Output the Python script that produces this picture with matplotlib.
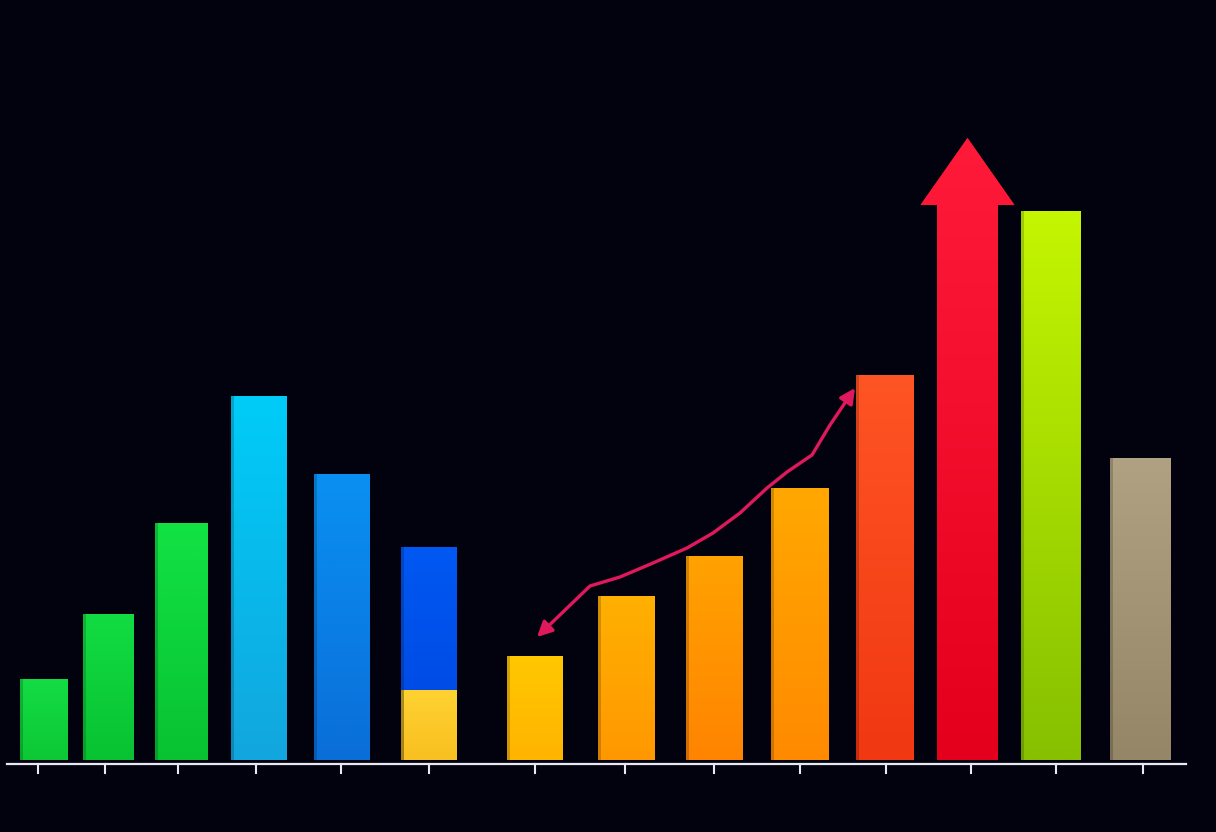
import numpy as np
import matplotlib
matplotlib.use("Agg")
import matplotlib.pyplot as plt
from matplotlib.patches import FancyArrow, FancyArrowPatch
from matplotlib.path import Path
from matplotlib.colors import to_rgb

# bar data (positions along the axis, heights, widths)
centers = [44, 108.5, 181.5, 259, 342, 429, 535, 626.5, 714.5, 800, 885, 1051, 1140.5]
heights = [81, 146, 237, 364, 286, 213, 104, 164, 204, 272, 385, 549, 302]
widths = [48, 51, 53, 56, 56, 56, 56, 57, 57, 58, 58, 60, 61]
top_colors = ['#14dc44', '#12dc42', '#12e244', '#00ccf8', '#0a90f2', '#0058f2', '#ffc800',
              '#ffb000', '#ffa200', '#ffa800', '#ff5424', '#c4f600', '#b0a182']
bottom_colors = ['#0cc834', '#08c232', '#08c232', '#12a6de', '#0a6ed8', '#0046e0', '#ffb400',
                 '#ff9800', '#ff8400', '#ff8a00', '#f03812', '#86c000', '#968668']

# yellow block at the bottom of the blue bar
stack_center = 429
stack_height = 70
stack_width = 56

# big red arrow bar
arrow_center = 967.5
arrow_shaft = 555
arrow_tip = 622

# tick positions
ticks = [38, 105, 178, 256, 341, 429, 535, 625, 714, 800, 886, 971, 1056, 1143]

# trend curve
curve_x = [537, 590, 620, 653, 687, 713, 740, 767, 787, 812, 830, 855]
curve_y = [123, 174, 183, 197, 212, 227, 247, 272, 288, 305, 335, 372]

bg = '#02020f'

fig = plt.figure(figsize=(12.16, 8.32), dpi=100, facecolor=bg)
ax = fig.add_axes([0, 0, 1, 1])
ax.set_facecolor(bg)
ax.set_xlim(0, 1216)
ax.set_ylim(-72, 760)
ax.axis('off')


def gradient_fill(patch, x0, x1, y0, y1, c_top, c_bot):
    t = np.array(to_rgb(c_top))
    b = np.array(to_rgb(c_bot))
    f = np.linspace(0, 1, 100)[:, None]
    img = np.repeat((t * (1 - f) + b * f)[:, None, :], 2, axis=1)
    im = ax.imshow(img, extent=[x0, x1, y0, y1], aspect='auto', zorder=3,
                   interpolation='bilinear')
    im.set_clip_path(patch)


def gradient_bar(x, w, h, c_top, c_bot, bottom=0):
    bars = ax.bar(x, h, w, bottom=bottom, color=c_bot, zorder=2, linewidth=0)
    gradient_fill(bars[0], x - w / 2, x + w / 2, bottom, bottom + h, c_top, c_bot)
    # slight shading on the left edge
    ax.bar(x - w / 2 + 1.5, h, 3, bottom=bottom, color='black', alpha=0.18, zorder=4, linewidth=0)
    return bars


for x, h, w, ct, cb in zip(centers, heights, widths, top_colors, bottom_colors):
    gradient_bar(x, w, h, ct, cb)

gradient_bar(stack_center, stack_width, stack_height, '#ffd232', '#f8c020')

# red arrow
arr = FancyArrow(arrow_center, 0, 0, arrow_tip, width=61, head_width=94,
                 head_length=arrow_tip - arrow_shaft, length_includes_head=True,
                 color='#f40a2a', zorder=2, linewidth=0)
ax.add_patch(arr)
gradient_fill(arr, arrow_center - 47, arrow_center + 47, 0, arrow_tip, '#ff1a3a', '#e4001c')

# curved trend arrow
path = Path(list(zip(curve_x, curve_y)))
curve = FancyArrowPatch(path=path, arrowstyle='<|-|>,head_length=9,head_width=4.5',
                        color='#e0185c', linewidth=2.4, zorder=5, joinstyle='round',
                        capstyle='round')
ax.add_patch(curve)

# axis line and ticks
ax.plot([7, 1186], [-4, -4], color='#e8e8f0', linewidth=1.6, zorder=2)
for t in ticks:
    ax.plot([t, t], [-4, -13], color='#e8e8f0', linewidth=1.5, zorder=2)

fig.savefig('out.png', dpi=100, facecolor=bg)
